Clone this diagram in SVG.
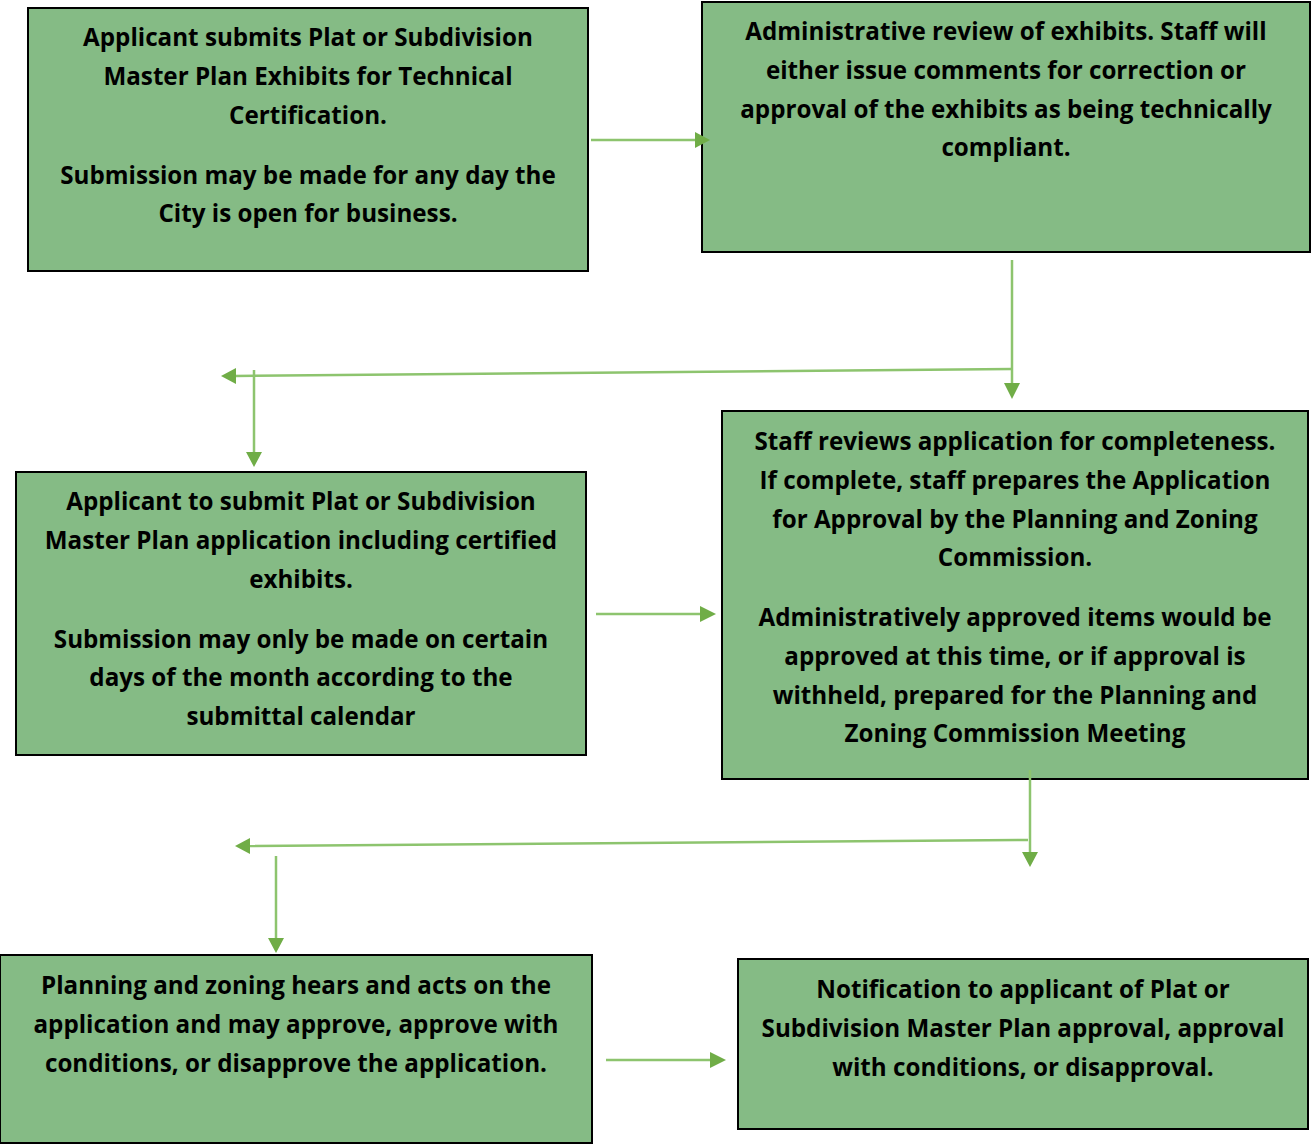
<svg xmlns="http://www.w3.org/2000/svg" width="1311" height="1144" viewBox="0 0 1311 1144">
<style>
.box{fill:#85BB85;stroke:#000;stroke-width:2}
.t{font-family:"Open Sans","Liberation Sans",sans-serif;font-weight:700;font-size:24.2px;fill:#000;text-anchor:middle}
.ln{stroke:#8DC46E;stroke-width:2.5;fill:none}
.hd{fill:#70AD47}
</style>
<rect width="1311" height="1144" fill="#fff"/>
<g id="n1"><rect class="box" x="28" y="8" width="560" height="263"/>
<text class="t"><tspan x="308" y="46">Applicant submits Plat or Subdivision</tspan><tspan x="308" y="85">Master Plan Exhibits for Technical</tspan><tspan x="308" y="124">Certification.</tspan><tspan x="308" y="184">Submission may be made for any day the</tspan><tspan x="308" y="222">City is open for business.</tspan></text></g>
<g id="n2"><rect class="box" x="702" y="2" width="608" height="250"/>
<text class="t"><tspan x="1006" y="40">Administrative review of exhibits. Staff will</tspan><tspan x="1006" y="79">either issue comments for correction or</tspan><tspan x="1006" y="118">approval of the exhibits as being technically</tspan><tspan x="1006" y="156">compliant.</tspan></text></g>
<g id="n3"><rect class="box" x="16" y="472" width="570" height="283"/>
<text class="t"><tspan x="301" y="510">Applicant to submit Plat or Subdivision</tspan><tspan x="301" y="549">Master Plan application including certified</tspan><tspan x="301" y="588">exhibits.</tspan><tspan x="301" y="648">Submission may only be made on certain</tspan><tspan x="301" y="686">days of the month according to the</tspan><tspan x="301" y="725">submittal calendar</tspan></text></g>
<g id="n4"><rect class="box" x="722" y="411" width="586" height="368"/>
<text class="t"><tspan x="1015" y="450">Staff reviews application for completeness.</tspan><tspan x="1015" y="489">If complete, staff prepares the Application</tspan><tspan x="1015" y="528">for Approval by the Planning and Zoning</tspan><tspan x="1015" y="566">Commission.</tspan><tspan x="1015" y="626">Administratively approved items would be</tspan><tspan x="1015" y="665">approved at this time, or if approval is</tspan><tspan x="1015" y="704">withheld, prepared for the Planning and</tspan><tspan x="1015" y="742">Zoning Commission Meeting</tspan></text></g>
<g id="n5"><rect class="box" x="0" y="955" width="592" height="188"/>
<text class="t"><tspan x="296" y="994">Planning and zoning hears and acts on the</tspan><tspan x="296" y="1033">application and may approve, approve with</tspan><tspan x="296" y="1072">conditions, or disapprove the application.</tspan></text></g>
<g id="n6"><rect class="box" x="738" y="959" width="570" height="170"/>
<text class="t"><tspan x="1023" y="998">Notification to applicant of Plat or</tspan><tspan x="1023" y="1037">Subdivision Master Plan approval, approval</tspan><tspan x="1023" y="1076">with conditions, or disapproval.</tspan></text></g>
<g id="connectors">
<line class="ln" x1="591" y1="140" x2="696" y2="140"/><polygon class="hd" points="695,132 710,140 695,148"/>
<line class="ln" x1="1012" y1="260" x2="1012" y2="384"/><polygon class="hd" points="1004,383 1020,383 1012,399"/>
<line class="ln" x1="1012" y1="369" x2="234" y2="376"/><polygon class="hd" points="236,368 221,376 236,384"/>
<line class="ln" x1="254" y1="370" x2="254" y2="453"/><polygon class="hd" points="246,452 262,452 254,467"/>
<line class="ln" x1="596" y1="614" x2="701" y2="614"/><polygon class="hd" points="700,606 716,614 700,622"/>
<line class="ln" x1="1030" y1="770" x2="1030" y2="853"/><polygon class="hd" points="1022,852 1038,852 1030,867"/>
<line class="ln" x1="1028" y1="840" x2="248" y2="846"/><polygon class="hd" points="250,838 235,846 250,854"/>
<line class="ln" x1="276" y1="856" x2="276" y2="939"/><polygon class="hd" points="268,938 284,938 276,953"/>
<line class="ln" x1="606" y1="1060" x2="711" y2="1060"/><polygon class="hd" points="710,1052 726,1060 710,1068"/>
</g>
</svg>
